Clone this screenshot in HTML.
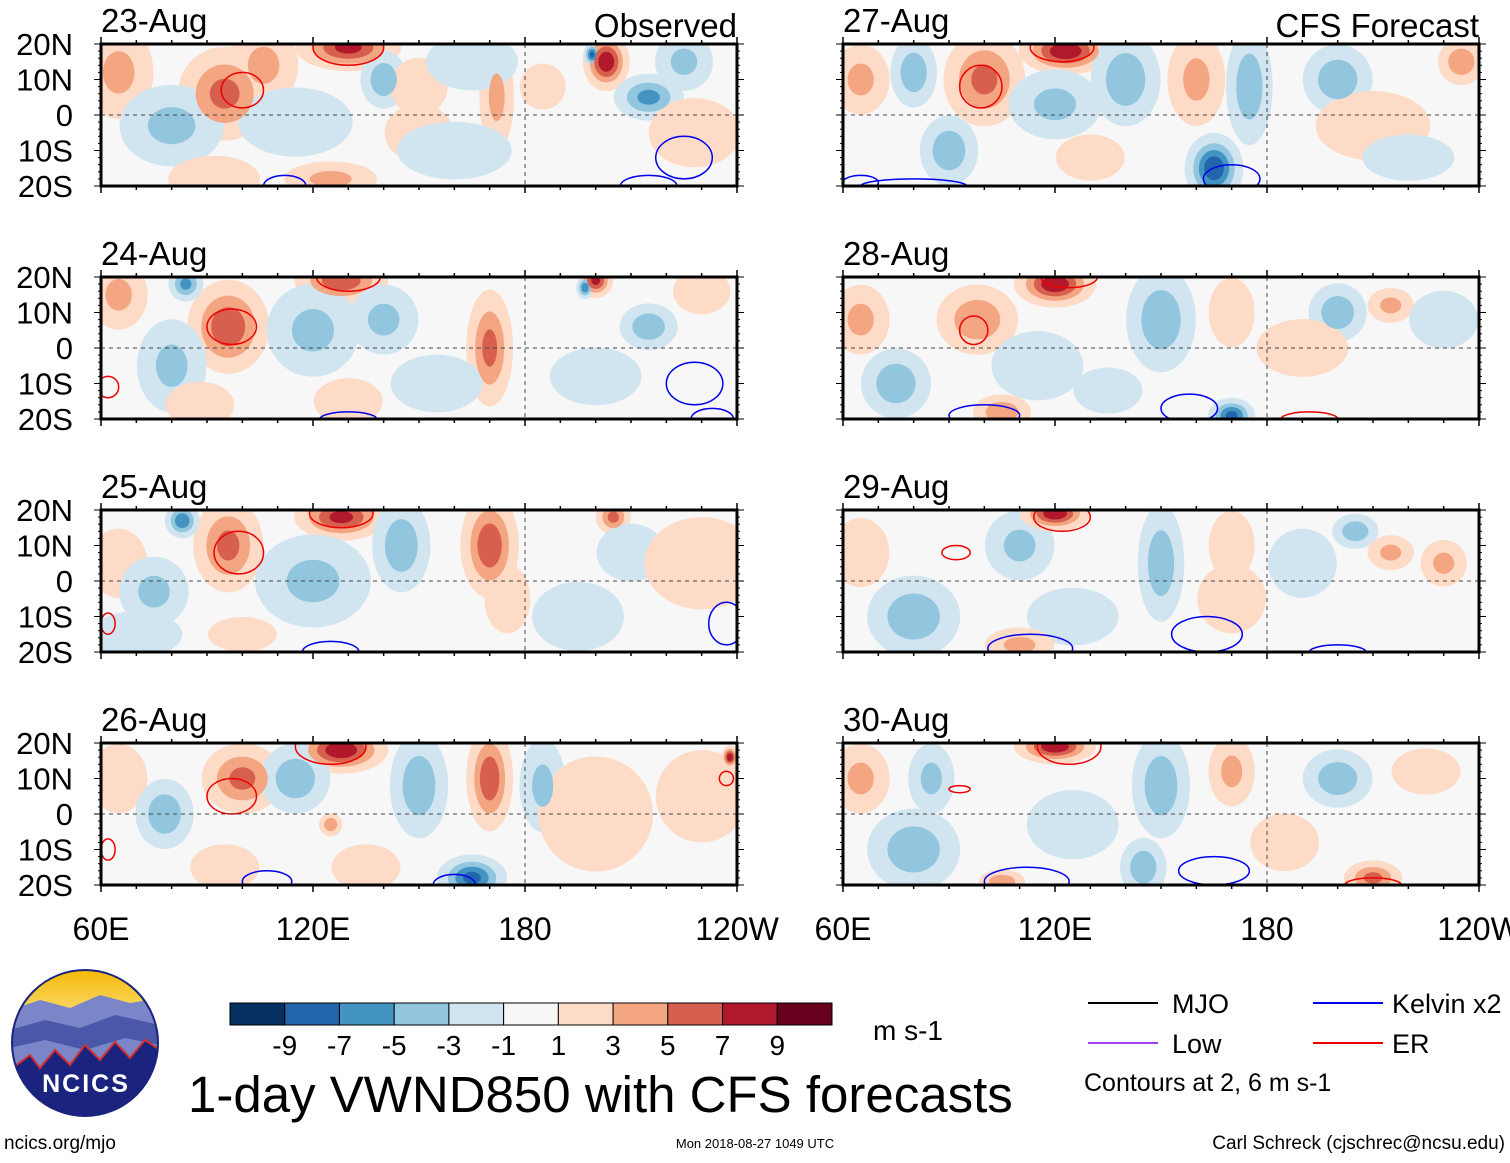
<!DOCTYPE html>
<html><head><meta charset="utf-8">
<style>
html,body{margin:0;padding:0;background:#fff;}
body{width:1510px;height:1158px;overflow:hidden;font-family:"Liberation Sans",sans-serif;}
svg text{font-family:"Liberation Sans",sans-serif;}
</style></head>
<body>
<svg id="chart" width="1510" height="1158" viewBox="0 0 1510 1158" xmlns="http://www.w3.org/2000/svg">
<rect width="1510" height="1158" fill="#fff"/>
<g id="panels"></g>
<g id="static"></g>
</svg>
<script>
// ---- data ----
const dates = ["23-Aug","24-Aug","25-Aug","26-Aug","27-Aug","28-Aug","29-Aug","30-Aug"];
const latTicks = ["20N","10N","0","10S","20S"];
const latValues = [20,10,0,-10,-20];
const lonTicks = ["60E","120E","180","120W"];
const lonValues = [60,120,180,240];
const cbarValues = [-9,-7,-5,-3,-1,1,3,5,7,9];
const cbarColors = ["#053061","#2166ac","#4393c3","#92c5de","#d1e5f0","#f7f7f7","#fddbc7","#f4a582","#d6604d","#b2182b","#67001f"];
// blobs per panel: [lon, lat, peak value m/s, lon radius deg, lat radius deg]
const field0 = [[65,12,4,6,8],[95,6,6,8,8],[130,19,8,9,4],[106,14,4,6,7],[80,-3,-4,9,7],[115,-2,-3,10,6],[140,10,-5,4,5],[150,-5,3,6,5],[150,8,3,5,5],[172,5,4,3,9],[165,15,-3,8,5],[203,15,9,4,5],[199,17,-8,1.5,2],[215,5,-6,6,4],[225,15,-4,5,5],[228,-5,3,8,6],[92,-18,3,8,4],[125,-18,4,8,3],[160,-10,-3,10,5],[185,8,3,4,4]];
const field1 = [[65,15,4,5,6],[96,6,7,7,8],[128,19,7,8,4],[84,18,-6,3,3],[80,-5,-4,6,8],[120,5,-4,8,8],[140,8,-4,6,6],[170,0,6,4,10],[155,-10,-3,8,5],[200,19,8,3,3],[197,17,-7,1.5,2],[215,6,-5,5,4],[230,16,3,5,4],[200,-8,-3,8,5],[88,-16,3,6,4],[130,-15,3,6,4]];
const field2 = [[65,5,3,5,6],[96,10,6,6,8],[128,18,8,8,4],[83,17,-7,3,3],[75,-3,-4,6,6],[120,0,-4,10,8],[145,10,-5,5,8],[170,10,7,5,9],[175,-5,3,4,6],[205,18,6,3,3],[210,8,-3,6,5],[230,5,3,10,8],[195,-10,-3,8,6],[70,-15,-3,8,4],[100,-15,3,6,3]];
const field3 = [[65,10,3,5,6],[100,10,6,7,6],[128,18,9,8,4],[78,0,-5,5,6],[115,10,-5,6,6],[150,8,-5,5,9],[170,10,7,4,9],[185,8,-4,4,8],[200,0,3,10,10],[230,5,3,8,8],[165,-18,-8,6,4],[135,-15,3,6,4],[95,-15,3,6,4],[238,16,9,1.5,2],[125,-3,5,2,2]];
const field4 = [[65,10,4,5,6],[100,10,6,7,8],[123,18,9,8,4],[80,12,-5,4,6],[120,3,-4,8,6],[140,10,-5,6,8],[160,10,4,5,8],[175,8,-5,4,10],[165,-15,-9,5,6],[200,10,-5,6,6],[210,-3,3,10,6],[235,15,5,4,4],[90,-10,-5,5,6],[130,-12,3,6,4],[220,-12,-3,8,4]];
const field5 = [[65,8,4,5,6],[98,8,5,7,6],[120,18,9,7,4],[75,-10,-5,6,6],[115,-5,-3,8,6],[150,8,-5,6,9],[170,10,3,4,6],[200,10,-5,5,5],[215,12,4,4,3],[105,-18,5,5,3],[170,-19,-8,4,3],[190,0,3,8,5],[230,8,-3,6,5],[135,-12,-3,6,4]];
const field6 = [[65,8,3,5,6],[110,10,-4,6,6],[120,19,9,6,3],[80,-10,-5,8,7],[125,-10,-3,8,5],[150,5,-5,4,10],[170,10,3,4,6],[190,5,-3,6,6],[205,14,-5,4,3],[215,8,4,4,3],[230,5,4,4,4],[110,-18,4,6,3],[170,-5,3,6,6]];
const field7 = [[65,10,4,5,6],[120,19,9,7,3],[85,10,-4,4,6],[80,-10,-5,8,7],[125,-3,-3,8,6],[150,8,-5,5,9],[170,12,4,4,6],[200,10,-5,6,5],[225,12,3,6,4],[145,-15,-5,4,5],[210,-18,6,5,3],[105,-19,5,4,2],[185,-8,3,6,5]];
const fields = [field0,field1,field2,field3,field4,field5,field6,field7];
// contour outlines: [lon, lat, rlon, rlat, type] (b=Kelvin, r=ER)
const contours0 = [[130,19,10,5,"r"],[100,7,6,5,"r"],[225,-12,8,6,"b"],[215,-20,8,3,"b"],[112,-20,6,3,"b"]];
const contours1 = [[130,20,9,4,"r"],[97,6,7,5,"r"],[228,-10,8,6,"b"],[233,-20,6,3,"b"],[130,-20,8,2,"b"],[62,-11,3,3,"r"]];
const contours2 = [[128,19,9,4,"r"],[99,8,7,6,"r"],[237,-12,5,6,"b"],[125,-20,8,3,"b"],[62,-12,2,3,"r"]];
const contours3 = [[125,19,10,5,"r"],[97,5,7,5,"r"],[107,-19,7,3,"b"],[160,-20,6,3,"b"],[237,10,2,2,"r"],[62,-10,2,3,"r"]];
const contours4 = [[122,19,9,4,"r"],[99,8,6,6,"r"],[170,-18,8,4,"b"],[80,-20,15,2,"b"],[65,-19,5,2,"b"]];
const contours5 = [[124,20,8,3,"r"],[97,5,4,4,"r"],[100,-19,10,3,"b"],[158,-17,8,4,"b"],[192,-20,8,2,"r"]];
const contours6 = [[122,18,8,4,"r"],[92,8,4,2,"r"],[113,-19,12,4,"b"],[163,-15,10,5,"b"],[200,-20,8,2,"b"]];
const contours7 = [[124,19,9,5,"r"],[93,7,3,1,"r"],[112,-19,12,4,"b"],[165,-16,10,4,"b"],[210,-20,8,2,"r"]];
const contoursAll = [contours0,contours1,contours2,contours3,contours4,contours5,contours6,contours7];

// ---- layout ----
const NS="http://www.w3.org/2000/svg";
const panelW=636, panelH=142;
const colX=[101,843], rowY=[44,277,510,743];
function mk(tag,attrs,parent){const e=document.createElementNS(NS,tag);for(const k in attrs)e.setAttribute(k,attrs[k]);if(parent)parent.appendChild(e);return e;}
function colorFor(t,sign){const idx=[1,3,5,7,9].indexOf(t);return sign>0?cbarColors[6+idx]:cbarColors[4-idx];}
const panelsG=document.getElementById('panels');
const staticG=document.getElementById('static');

for(let p=0;p<8;p++){
  const col=p<4?0:1,row=p%4;
  const x0=colX[col],y0=rowY[row];
  const sx=lon=>x0+(lon-60)/180*panelW;
  const sy=lat=>y0+(20-lat)/40*panelH;
  const g=mk('g',{},panelsG);
  
  
  const cid='clip'+p;
  const cp=mk('clipPath',{id:cid},g);mk('rect',{x:x0,y:y0,width:panelW,height:panelH},cp);
  const inner=mk('g',{'clip-path':'url(#'+cid+')'},g);
  mk('rect',{x:x0,y:y0,width:panelW,height:panelH,fill:'#f7f7f7'},inner);
  const f=fields[p];
  for(const t of [1,3,5,7,9]){
    for(const b of f){
      const v=Math.abs(b[2]);
      if(v<=t)continue;
      const s=Math.sqrt(Math.log(v/t)/Math.log(v/0.9));
      const el=mk('ellipse',{cx:sx(b[0]),cy:sy(b[1]),rx:b[3]*s*panelW/180*1.7,ry:b[4]*s*panelH/40*1.7,fill:colorFor(t,Math.sign(b[2]))},inner);
      
      
    }
  }
  for(const c of contoursAll[p]){
    const el=mk('ellipse',{cx:sx(c[0]),cy:sy(c[1]),rx:c[2]*panelW/180,ry:c[3]*panelH/40,fill:'none',stroke:c[4]==='b'?'#0000ee':'#ee0000','stroke-width':1.5},inner);
    
    
  }
  mk('line',{x1:x0,x2:x0+panelW,y1:sy(0),y2:sy(0),stroke:'#444','stroke-dasharray':'4,4','stroke-width':1},inner);
  mk('line',{x1:sx(180),x2:sx(180),y1:y0,y2:y0+panelH,stroke:'#444','stroke-dasharray':'4,4','stroke-width':1},inner);
  for(let lon=60;lon<=240;lon+=10){
    const L=(lon%60===0)?7:4;
    mk('line',{x1:sx(lon),x2:sx(lon),y1:y0+panelH,y2:y0+panelH+L,stroke:'#000','stroke-width':1.5},g);
    mk('line',{x1:sx(lon),x2:sx(lon),y1:y0,y2:y0-L,stroke:'#000','stroke-width':1.5},g);
  }
  for(let lat=-20;lat<=20;lat+=2){
    const L=(lat%10===0)?7:3;
    mk('line',{x1:x0,x2:x0-L,y1:sy(lat),y2:sy(lat),stroke:'#000','stroke-width':1},g);
    mk('line',{x1:x0+panelW,x2:x0+panelW+L,y1:sy(lat),y2:sy(lat),stroke:'#000','stroke-width':1},g);
  }
  const fr=mk('rect',{x:x0,y:y0,width:panelW,height:panelH,fill:'none',stroke:'#000','stroke-width':3},g);
  
  
  const dt=mk('text',{x:x0,y:y0-12,'font-size':33,fill:'#000'},g);dt.textContent=dates[p];
  
  
  if(col===0){
    latValues.forEach((lat,i)=>{const t=mk('text',{x:73,y:sy(lat)+11,'font-size':31,'text-anchor':'end',fill:'#000'},g);t.textContent=latTicks[i];
      
      });
  }
  if(row===3){
    lonValues.forEach((lon,i)=>{const t=mk('text',{x:sx(lon),y:940,'font-size':32,'text-anchor':'middle',fill:'#000'},g);t.textContent=lonTicks[i];
      
      });
  }
}
function txt(x,y,s,str,name,anchor){const t=mk('text',{x:x,y:y,'font-size':s,fill:'#000','text-anchor':anchor||'start'},staticG);t.textContent=str;
  
  return t;}
txt(737,37,33,"Observed","observed-title","end");
txt(1479,37,33,"CFS Forecast","forecast-title","end");
const cbX=230,cbY=1003,cbW=602,cbH=22,bw=cbW/cbarColors.length;
cbarColors.forEach((c,i)=>{const r=mk('rect',{x:cbX+i*bw,y:cbY,width:bw,height:cbH,fill:c,stroke:'#000','stroke-width':1},staticG);
  
  });
cbarValues.forEach((v,i)=>txt(cbX+(i+1)*bw,1055,28,String(v),"colorbar-label","middle"));
txt(873,1040,28,"m s-1","colorbar-units");
txt(188,1112,51,"1-day VWND850 with CFS forecasts","main-title");
const leg=[[1088,1003,'#000','MJO',1172],[1088,1043,'#a040f0','Low',1172],[1313,1003,'#0000ee','Kelvin x2',1392],[1313,1043,'#ee0000','ER',1392]];
leg.forEach(l=>{const ln=mk('line',{x1:l[0],x2:l[0]+70,y1:l[1],y2:l[1],stroke:l[2],'stroke-width':2},staticG);
  
  
  txt(l[4],l[1]+10,27,l[3],"legend-entry");});
txt(1084,1091,25,"Contours at 2, 6 m s-1","contour-note");
txt(4,1149,19,"ncics.org/mjo","site-url");
txt(755,1148,13,"Mon 2018-08-27 1049 UTC","timestamp","middle");
txt(1505,1149,19,"Carl Schreck (cjschrec@ncsu.edu)","author-credit","end");
const lg=mk('g',{},staticG);


const defs=mk('defs',{},lg);
const gr=mk('linearGradient',{id:'sky',x1:0,y1:0,x2:0,y2:1},defs);
mk('stop',{offset:'0','stop-color':'#f5b700'},gr);mk('stop',{offset:'0.45','stop-color':'#fde9a0'},gr);mk('stop',{offset:'1','stop-color':'#fff'},gr);
const lc=mk('clipPath',{id:'logoclip'},defs);mk('circle',{cx:85,cy:1043,r:73},lc);
const li=mk('g',{'clip-path':'url(#logoclip)'},lg);
mk('rect',{x:10,y:968,width:150,height:150,fill:'url(#sky)'},li);
mk('path',{d:'M10 1010 L40 1000 L70 1008 L100 995 L130 1003 L160 998 L160 1120 L10 1120Z',fill:'#7a86c8'},li);
mk('path',{d:'M10 1030 L45 1020 L80 1028 L115 1015 L160 1025 L160 1120 L10 1120Z',fill:'#4b57a8'},li);
mk('path',{d:'M10 1048 L45 1040 L85 1050 L125 1038 L160 1045 L160 1120 L10 1120Z',fill:'#7a86c8'},li);
mk('path',{d:'M10 1070 L30 1055 L40 1068 L55 1050 L70 1065 L85 1045 L100 1060 L115 1042 L130 1058 L145 1040 L160 1050 L160 1120 L10 1120Z',fill:'#1a237e',stroke:'#d32f2f','stroke-width':2},li);
mk('circle',{cx:85,cy:1043,r:73,fill:'none',stroke:'#1a237e','stroke-width':2},lg);
const nt=mk('text',{x:86,y:1092,'font-size':25,'font-weight':'bold','text-anchor':'middle',fill:'#fff','letter-spacing':'2'},lg);nt.textContent="NCICS";
</script>
</body></html>
